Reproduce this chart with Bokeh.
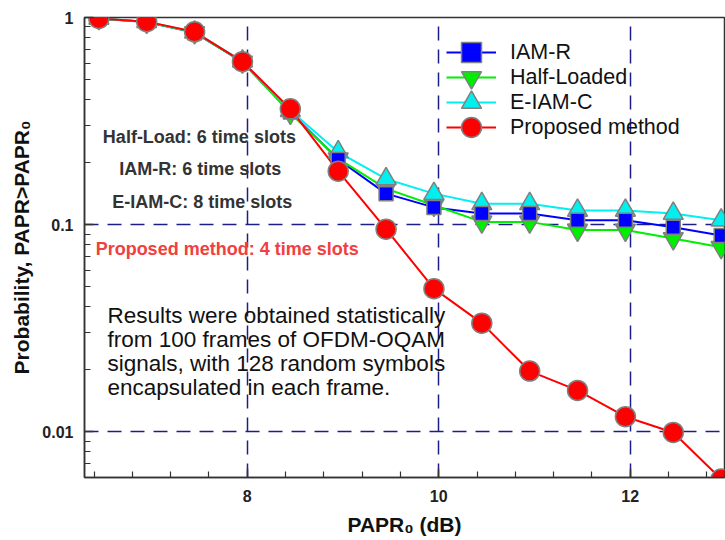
from bokeh.plotting import figure
from bokeh.models import (Range1d, Legend, LegendItem, Label, SingleIntervalTicker,
                          LogTicker, CustomJSTickFormatter, ColumnDataSource)
from bokeh.embed import file_html
from bokeh.resources import INLINE

# ---- data ----
papr_db = [6.45, 6.95, 7.45, 7.95, 8.45, 8.95, 9.45, 9.95, 10.45, 10.95, 11.45, 11.95, 12.45, 12.95]
iam_r = [0.99, 0.95, 0.845, 0.61, 0.35, 0.206, 0.141, 0.121, 0.113, 0.113, 0.105, 0.105, 0.097, 0.0886]
half_loaded = [0.99, 0.95, 0.845, 0.61, 0.345, 0.208, 0.149, 0.124, 0.103, 0.103, 0.094, 0.094, 0.0856, 0.0776]
e_iam_c = [0.99, 0.955, 0.85, 0.615, 0.355, 0.224, 0.166, 0.141, 0.126, 0.126, 0.117, 0.117, 0.113, 0.105]
proposed = [0.99, 0.955, 0.853, 0.612, 0.362, 0.181, 0.095, 0.049, 0.0334, 0.0196, 0.0158, 0.0118, 0.0099, 0.0059]

series_names = ["IAM-R", "Half-Loaded", "E-IAM-C", "Proposed method"]
annotations = ["Half-Load: 6 time slots", "IAM-R: 6 time slots", "E-IAM-C: 8 time slots"]
annotation_red = "Proposed method: 4 time slots"
note_lines = ["Results were obtained statistically",
              "from 100 frames of OFDM-OQAM",
              "signals, with 128 random symbols",
              "encapsulated in each frame."]

FONT = "Liberation Sans"

p = figure(width=725, height=540, y_axis_type="log", output_backend="svg",
           toolbar_location=None, x_range=Range1d(6.3, 12.985), y_range=Range1d(0.006, 1.0))
p.min_border_left = 84
p.min_border_right = 1
p.min_border_top = 17
p.min_border_bottom = 63
p.background_fill_color = "white"
p.border_fill_color = "white"
p.outline_line_color = "#333333"
p.outline_line_width = 1.5

src = ColumnDataSource(dict(x=papr_db, iam=iam_r, half=half_loaded, eiam=e_iam_c, prop=proposed))

# lines
l_iam = p.line("x", "iam", source=src, line_color="#0000ff", line_width=2)
l_half = p.line("x", "half", source=src, line_color="#00ee00", line_width=2)
l_eiam = p.line("x", "eiam", source=src, line_color="#00f0f0", line_width=2)
l_prop = p.line("x", "prop", source=src, line_color="#ff0000", line_width=2)

# markers
m_half = p.scatter("x", "half", source=src, marker="inverted_triangle", size=20,
                   fill_color="#00ee00", line_color="#808080", line_width=1.5)
m_eiam = p.scatter("x", "eiam", source=src, marker="triangle", size=20,
                   fill_color="#00f0f0", line_color="#808080", line_width=1.5)
m_iam = p.scatter("x", "iam", source=src, marker="square", size=14,
                  fill_color="#0000ff", line_color="#808080", line_width=1.5)
m_prop = p.scatter("x", "prop", source=src, marker="circle", size=20,
                   fill_color="#ff0000", line_color="#808080", line_width=1.5)

# axes
xa = p.xaxis[0]
xa.ticker = SingleIntervalTicker(interval=2, num_minor_ticks=5)
ya = p.yaxis[0]
ya.ticker = LogTicker(num_minor_ticks=10)
ya.formatter = CustomJSTickFormatter(code="return String(+tick.toPrecision(6));")

for ax in (xa, ya):
    ax.axis_line_color = "#333333"
    ax.axis_line_width = 1.5
    ax.major_tick_in = 9
    ax.major_tick_out = 0
    ax.minor_tick_in = 6
    ax.minor_tick_out = 0
    ax.major_tick_line_color = "#333333"
    ax.minor_tick_line_color = "#333333"
    ax.major_tick_line_width = 1.5
    ax.minor_tick_line_width = 1.2
    ax.major_label_text_font = FONT
    ax.major_label_text_font_style = "bold"
    ax.major_label_text_font_size = "16px"
    ax.major_label_text_color = "#222222"
    ax.axis_label_text_font = FONT
    ax.axis_label_text_font_style = "bold"
    ax.axis_label_text_font_size = "21px"
    ax.axis_label_text_color = "#111111"

xa.axis_label = "PAPR\u2080 (dB)"
ya.axis_label = "Probability, PAPR>PAPR\u2080"
xa.major_label_standoff = 12
xa.axis_label_standoff = 8
ya.major_label_standoff = 11
ya.axis_label_standoff = 6

# grids
for g in (p.xgrid[0], p.ygrid[0]):
    g.grid_line_color = "#1c1c8a"
    g.grid_line_width = 1.5
    g.grid_line_dash = "14 9"
p.ygrid[0].minor_grid_line_color = None

# legend: one single-item legend per row so that markers stay large while rows are 25px apart
pairs = [(l_iam, m_iam), (l_half, m_half), (l_eiam, m_eiam), (l_prop, m_prop)]
for i, (name, (ln, mk)) in enumerate(zip(series_names, pairs)):
    lg = Legend(items=[LegendItem(label=name, renderers=[ln, mk])],
                location=(362, 400 - 25 * i))
    lg.glyph_width = 50
    lg.glyph_height = 50
    lg.label_height = 25
    lg.padding = 0
    lg.margin = 0
    lg.label_standoff = 14
    lg.label_text_font = FONT
    lg.label_text_font_size = "21.5px"
    lg.label_text_color = "#111111"
    lg.border_line_color = None
    lg.background_fill_alpha = 0
    p.add_layout(lg)

# annotations
ann_pos = [(7.50, 0.264), (7.51, 0.186), (7.53, 0.129)]
for txt, (ax_, ay_) in zip(annotations, ann_pos):
    p.add_layout(Label(x=ax_, y=ay_, text=txt, text_align="center", text_baseline="middle",
                       text_font=FONT, text_font_style="bold", text_font_size="18px",
                       text_color="#333333"))
p.add_layout(Label(x=7.79, y=0.0765, text=annotation_red, text_align="center",
                   text_baseline="middle", text_font=FONT, text_font_style="bold",
                   text_font_size="18px", text_color="#f04040"))

for i, line in enumerate(note_lines):
    p.add_layout(Label(x=6.54, y=0.0365, y_offset=-24 * i, text=line, text_align="left",
                       text_baseline="middle", text_font=FONT, text_font_size="22.5px",
                       text_color="#111111"))

open("out.html", "w").write(file_html(p, INLINE))
